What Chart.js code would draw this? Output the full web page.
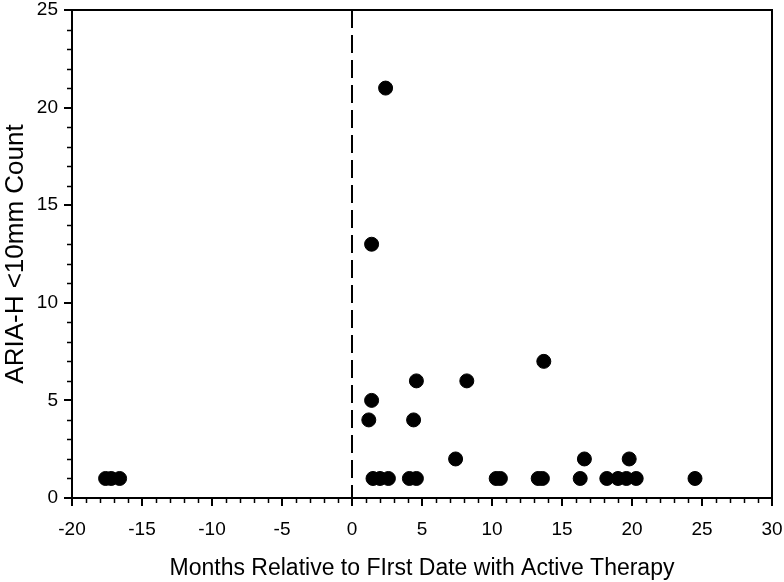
<!DOCTYPE html>
<html>
<head>
<meta charset="utf-8">
<script src="https://cdn.jsdelivr.net/npm/chart.js@4/dist/chart.umd.min.js"></script>
<style>
  html, body { margin: 0; padding: 0; background: #fff; }
  #wrap { width: 784px; height: 582px; }
</style>
</head>
<body>
<div id="wrap"><canvas id="scatterChart" width="784" height="582"></canvas></div>
<script>
// Months relative to first date with active therapy
const monthsX = [
    -17.6, -17.2, -16.6,
    1.2, 1.4, 1.4, 2.4,
    1.5, 2.0, 2.6,
    4.1, 4.6, 4.4, 4.6,
    7.4, 8.2,
    10.3, 10.6,
    13.3, 13.6, 13.7,
    16.3, 16.6,
    18.2, 19.0, 19.6, 20.3, 19.8,
    24.5
];
// ARIA-H <10mm count
const ariaCount = [
    1, 1, 1,
    4, 5, 13, 21,
    1, 1, 1,
    1, 1, 4, 6,
    2, 6,
    1, 1,
    1, 1, 7,
    1, 2,
    1, 1, 1, 1, 2,
    1
];

const xTitle = 'Months Relative to FIrst Date with Active Therapy';
const yTitle = 'ARIA-H <10mm Count';

const FONT = "'Liberation Sans', Arial, sans-serif";

// Frame, minor ticks and the dashed line at month 0
const extrasPlugin = {
    id: 'extras',
    afterDraw(chart) {
        const ctx = chart.ctx;
        const area = chart.chartArea;
        const xs = chart.scales.x, ys = chart.scales.y;
        ctx.save();
        ctx.strokeStyle = '#000';
        ctx.lineWidth = 2;
        // top and right frame
        ctx.beginPath();
        ctx.moveTo(area.left, area.top);
        ctx.lineTo(area.right, area.top);
        ctx.lineTo(area.right, area.bottom);
        ctx.stroke();
        // minor ticks
        ctx.lineWidth = 1.5;
        ctx.beginPath();
        for (let v = -20; v <= 30; v++) {
            if (v % 5 === 0) continue;
            const px = Math.round(xs.getPixelForValue(v)) + 0.5;
            ctx.moveTo(px, area.bottom);
            ctx.lineTo(px, area.bottom + 5);
        }
        for (let v = 0; v <= 25; v++) {
            if (v % 5 === 0) continue;
            const py = Math.round(ys.getPixelForValue(v)) + 0.5;
            ctx.moveTo(area.left, py);
            ctx.lineTo(area.left - 5, py);
        }
        ctx.stroke();
        // dashed reference line at 0
        const zx = xs.getPixelForValue(0);
        ctx.lineWidth = 2;
        ctx.setLineDash([18, 7]);
        ctx.beginPath();
        ctx.moveTo(zx, area.top);
        ctx.lineTo(zx, area.bottom);
        ctx.stroke();
        ctx.restore();
    }
};

const ctx = document.getElementById('scatterChart').getContext('2d');
const scatterChart = new Chart(ctx, {
    type: 'scatter',
    data: {
        datasets: [{
            data: monthsX.map((x, i) => ({ x: x, y: ariaCount[i] })),
            backgroundColor: '#000',
            borderColor: '#000',
            pointRadius: 7,
            pointHoverRadius: 7
        }]
    },
    options: {
        responsive: false,
        animation: false,
        layout: { padding: { top: 10, right: 12, left: 0, bottom: 0 } },
        plugins: { legend: { display: false }, tooltip: { enabled: false } },
        scales: {
            x: {
                type: 'linear',
                min: -20, max: 30,
                afterFit(scale) {
                    scale.height = 84;
                    scale.paddingLeft = 0;
                    scale.paddingRight = 0;
                },
                border: { color: '#000', width: 2 },
                grid: { drawOnChartArea: false, color: '#000', lineWidth: 2, tickLength: 8 },
                ticks: { stepSize: 5, color: '#000', padding: 12, font: { family: FONT, size: 19 } },
                title: { display: true, text: xTitle, color: '#000', padding: { top: 6, bottom: 0 }, font: { family: FONT, size: 23 } }
            },
            y: {
                type: 'linear',
                min: 0, max: 25,
                afterFit(scale) {
                    scale.width = 72;
                    scale.paddingTop = 0;
                    scale.paddingBottom = 0;
                },
                border: { color: '#000', width: 2 },
                grid: { drawOnChartArea: false, color: '#000', lineWidth: 2, tickLength: 8 },
                ticks: { stepSize: 5, color: '#000', padding: 6, font: { family: FONT, size: 19 } },
                title: { display: true, text: yTitle, color: '#000', padding: { top: 0, bottom: 0 }, font: { family: FONT, size: 26 } }
            }
        }
    },
    plugins: [extrasPlugin]
});
</script>
</body>
</html>
